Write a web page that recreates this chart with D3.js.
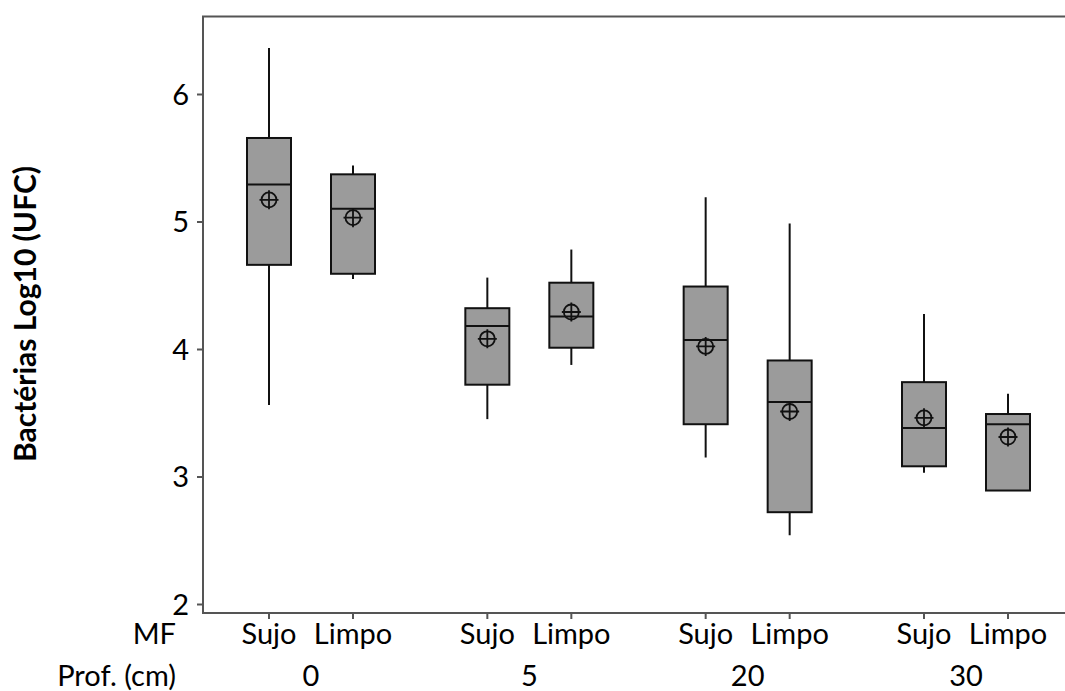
<!DOCTYPE html>
<html>
<head>
<meta charset="utf-8">
<script src="https://cdn.jsdelivr.net/npm/d3@7"></script>
<style>
  body { margin: 0; background: #fff; }
  svg { display: block; font-family: Lato, "Open Sans", sans-serif; }
</style>
</head>
<body>
<div class="chart"></div>
<script>
var width = 1065;
var height = 691;

// categories
var depths = ["0", "5", "20", "30"];
var mfs = ["Sujo", "Limpo"];
var yTicks = [2, 3, 4, 5, 6];

// one value per box, order: 0 Sujo, 0 Limpo, 5 Sujo, 5 Limpo, ...
var whiskerLow  = [3.56, 4.55, 3.45, 3.875, 3.15, 2.54, 3.03, 2.89];
var q1          = [4.66, 4.59, 3.72, 4.01, 3.41, 2.72, 3.08, 2.89];
var median      = [5.29, 5.10, 4.18, 4.255, 4.07, 3.585, 3.38, 3.41];
var q3          = [5.655, 5.37, 4.32, 4.52, 4.49, 3.91, 3.74, 3.49];
var whiskerHigh = [6.36, 5.44, 4.56, 4.78, 5.19, 4.985, 4.275, 3.65];
var means       = [5.17, 5.03, 4.08, 4.29, 4.02, 3.51, 3.46, 3.31];

var plot = {left: 203, top: 16.5, right: 1080, bottom: 613};
var fontSize = 29;

var svg = d3.select(".chart").append("svg")
  .attr("width", width)
  .attr("height", height);

var y = d3.scaleLinear().domain([2, 6]).range([604, 94]);
var xDepth = d3.scalePoint().domain(depths).range([311, 966]);
var xMf = d3.scalePoint().domain(mfs).range([-42, 42]);

var boxes = [];
depths.forEach(function(d, i) {
  mfs.forEach(function(m, j) {
    var k = i * 2 + j;
    boxes.push({
      depth: d, mf: m,
      x: xDepth(d) + xMf(m),
      lo: whiskerLow[k], q1: q1[k], med: median[k], q3: q3[k], hi: whiskerHigh[k], mean: means[k]
    });
  });
});

var boxW = 44;

// frame (right side is cut off in the original)
svg.append("path")
  .attr("d", "M" + plot.right + "," + plot.top + "H" + plot.left + "V" + plot.bottom + "H" + plot.right)
  .attr("fill", "none")
  .attr("stroke", "#555")
  .attr("stroke-width", 2);

// y axis ticks + labels
var yAxis = d3.axisLeft(y).tickValues(yTicks).tickSize(6).tickPadding(8).tickFormat(d3.format("d"));
var gy = svg.append("g").attr("transform", "translate(" + plot.left + ",0)").call(yAxis);
gy.select(".domain").remove();
gy.selectAll(".tick line").attr("stroke", "#555").attr("stroke-width", 2);
gy.selectAll(".tick text")
  .attr("font-size", fontSize)
  .attr("font-family", "Lato, sans-serif")
  .attr("fill", "#000")
  .attr("dy", "0.36em");

// x ticks
svg.selectAll(".xtick").data(boxes).enter().append("line")
  .attr("class", "xtick")
  .attr("x1", function(d) { return d.x; })
  .attr("x2", function(d) { return d.x; })
  .attr("y1", plot.bottom)
  .attr("y2", plot.bottom + 6)
  .attr("stroke", "#555")
  .attr("stroke-width", 2);

// whiskers
var g = svg.append("g");
g.selectAll(".whisker").data(boxes).enter().append("line")
  .attr("x1", function(d) { return d.x; })
  .attr("x2", function(d) { return d.x; })
  .attr("y1", function(d) { return y(d.hi); })
  .attr("y2", function(d) { return y(d.lo); })
  .attr("stroke", "#111")
  .attr("stroke-width", 2);

// boxes
g.selectAll(".box").data(boxes).enter().append("rect")
  .attr("x", function(d) { return d.x - boxW / 2; })
  .attr("y", function(d) { return y(d.q3); })
  .attr("width", boxW)
  .attr("height", function(d) { return y(d.q1) - y(d.q3); })
  .attr("fill", "#9b9b9b")
  .attr("stroke", "#111")
  .attr("stroke-width", 2);

// medians
g.selectAll(".median").data(boxes).enter().append("line")
  .attr("x1", function(d) { return d.x - boxW / 2; })
  .attr("x2", function(d) { return d.x + boxW / 2; })
  .attr("y1", function(d) { return y(d.med); })
  .attr("y2", function(d) { return y(d.med); })
  .attr("stroke", "#111")
  .attr("stroke-width", 2);

// mean symbols (circle with cross)
var mean = g.selectAll(".mean").data(boxes).enter().append("g")
  .attr("transform", function(d) { return "translate(" + d.x + "," + y(d.mean) + ")"; });
mean.append("circle")
  .attr("r", 7.5)
  .attr("fill", "none")
  .attr("stroke", "#111")
  .attr("stroke-width", 1.8);
mean.append("path")
  .attr("d", "M-9.5,0H9.5M0,-9.5V9.5")
  .attr("stroke", "#111")
  .attr("stroke-width", 1.8);

// x labels
svg.selectAll(".mflabel").data(boxes).enter().append("text")
  .attr("x", function(d) { return d.x; })
  .attr("y", 644)
  .attr("text-anchor", "middle")
  .attr("font-size", fontSize)
  .attr("fill", "#000")
  .text(function(d) { return d.mf; });

svg.selectAll(".depthlabel").data(depths).enter().append("text")
  .attr("x", function(d) { return xDepth(d); })
  .attr("y", 686)
  .attr("text-anchor", "middle")
  .attr("font-size", fontSize)
  .attr("fill", "#000")
  .text(function(d) { return d; });

svg.append("text")
  .attr("x", 176).attr("y", 644)
  .attr("text-anchor", "end")
  .attr("font-size", fontSize)
  .attr("fill", "#000")
  .text("MF");

svg.append("text")
  .attr("x", 176).attr("y", 686)
  .attr("text-anchor", "end")
  .attr("font-size", fontSize)
  .attr("fill", "#000")
  .text("Prof. (cm)");

// y title
svg.append("text")
  .attr("transform", "translate(36,314) rotate(-90)")
  .attr("text-anchor", "middle")
  .attr("font-size", 30)
  .attr("font-weight", "bold")
  .attr("fill", "#000")
  .text("Bactérias Log10 (UFC)");
</script>
</body>
</html>
